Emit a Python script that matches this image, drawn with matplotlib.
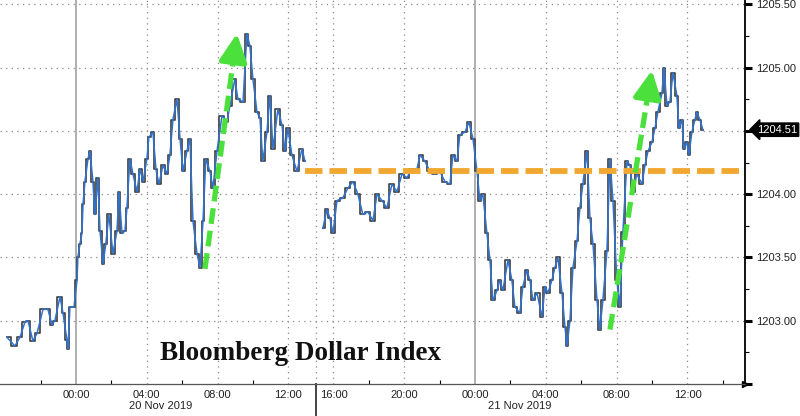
import matplotlib.pyplot as plt
import numpy as np

# hours from 20 Nov 2019 00:00 and index level
t1 = [-3.90, -3.45, -3.16, -2.88, -2.71, -2.43, -2.20, -1.86, -1.58, -1.36,
      -1.19, -0.90, -0.73, -0.51, -0.45, -0.34, -0.11, 0.06, 0.11, 0.23,
      0.34, 0.40, 0.51, 0.68, 0.79, 0.96, 1.07, 1.24, 1.36, 1.53,
      1.69, 1.86, 2.09, 2.32, 2.43, 2.60, 2.77, 2.88, 3.05, 3.22,
      3.45, 3.62, 3.79, 4.01, 4.12, 4.35, 4.52, 4.69, 4.92, 5.14,
      5.31, 5.48, 5.71, 5.88, 6.05, 6.27, 6.44, 6.61, 6.84, 7.01,
      7.18, 7.34, 7.57, 7.74, 7.97, 8.25, 8.53, 8.70, 8.98, 9.15,
      9.44, 9.66, 9.83, 10.00, 10.23, 10.40, 10.56, 10.79, 10.96, 11.13,
      11.41, 11.64, 11.81, 11.98, 12.20, 12.49, 12.77, 12.94]
p1 = [1202.87, 1202.80, 1202.87, 1202.99, 1203.00, 1202.84, 1202.90, 1203.09, 1203.09, 1202.97,
      1203.00, 1203.19, 1203.06, 1202.85, 1202.78, 1203.11, 1203.11, 1203.32, 1203.50, 1203.61,
      1203.69, 1203.92, 1204.10, 1204.28, 1204.34, 1204.10, 1203.84, 1204.13, 1203.71, 1203.45,
      1203.61, 1203.84, 1203.53, 1203.71, 1204.02, 1203.69, 1203.71, 1203.89, 1204.28, 1204.16,
      1204.02, 1204.20, 1204.10, 1204.28, 1204.45, 1204.49, 1204.20, 1204.08, 1204.23, 1204.16,
      1204.31, 1204.59, 1204.75, 1204.44, 1204.18, 1204.34, 1204.44, 1203.79, 1203.53, 1203.42,
      1203.79, 1204.28, 1204.18, 1204.05, 1204.34, 1204.62, 1204.57, 1204.70, 1204.91, 1204.75,
      1204.73, 1205.27, 1205.17, 1204.91, 1204.65, 1204.60, 1204.26, 1204.49, 1204.78, 1204.36,
      1204.67, 1204.55, 1204.34, 1204.52, 1204.31, 1204.18, 1204.36, 1204.26]

t2 = [15.40, 15.63, 15.80, 15.97, 16.20, 16.53, 16.82, 17.10, 17.38, 17.66,
      17.95, 18.23, 18.46, 18.74, 19.02, 19.30, 19.59, 19.87, 20.15, 20.43,
      20.72, 20.89, 21.17, 21.45, 21.73, 22.01, 22.30, 22.58, 22.75, 22.98,
      23.14, 23.43, 23.65, 23.88, 24.11, 24.27, 24.44, 24.67, 24.84, 25.01,
      25.24, 25.40, 25.57, 25.86, 26.08, 26.25, 26.53, 26.70, 26.93, 27.10,
      27.27, 27.50, 27.78, 27.95, 28.12, 28.34, 28.51, 28.68, 28.91, 29.08,
      29.19, 29.36, 29.53, 29.76, 29.92, 30.09, 30.32, 30.49, 30.66, 30.89,
      31.05, 31.22, 31.45, 31.62, 31.79, 32.01, 32.18, 32.35, 32.58, 32.75,
      32.92, 33.14, 33.43, 33.60, 33.77, 33.99, 34.16, 34.33, 34.56, 34.67,
      34.84, 35.01, 35.18, 35.40, 35.52, 35.69, 35.80, 35.97, 36.08, 36.25,
      36.42, 36.53, 36.70, 36.87]
p2 = [1203.73, 1203.88, 1203.81, 1203.69, 1203.95, 1203.97, 1204.05, 1204.10, 1204.00, 1203.84,
      1203.86, 1203.79, 1204.00, 1203.95, 1203.89, 1204.08, 1204.02, 1204.16, 1204.13, 1204.20,
      1204.20, 1204.31, 1204.26, 1204.18, 1204.16, 1204.18, 1204.10, 1204.08, 1204.31, 1204.26,
      1204.47, 1204.49, 1204.57, 1204.44, 1204.18, 1203.95, 1204.00, 1203.69, 1203.48, 1203.16,
      1203.24, 1203.32, 1203.24, 1203.48, 1203.32, 1203.11, 1203.06, 1203.27, 1203.40, 1203.32,
      1203.16, 1203.22, 1203.03, 1203.27, 1203.22, 1203.32, 1203.42, 1203.50, 1203.22, 1202.95,
      1202.80, 1203.00, 1203.42, 1203.63, 1203.89, 1204.08, 1204.34, 1203.81, 1203.61, 1203.16,
      1202.93, 1203.16, 1203.55, 1204.28, 1203.95, 1203.32, 1203.11, 1203.70, 1204.26, 1204.23,
      1204.02, 1204.16, 1204.08, 1204.23, 1204.34, 1204.41, 1204.52, 1204.65, 1204.80, 1205.00,
      1204.70, 1204.73, 1204.96, 1204.78, 1204.52, 1204.59, 1204.36, 1204.41, 1204.31, 1204.49,
      1204.59, 1204.65, 1204.59, 1204.51]

last_price = 1204.51
resistance = 1204.18
resistance_hours = [12.94, 38.95]
arrow_starts = [(7.29, 1203.41), (31.62, 1202.93)]
arrow_ends = [(9.10, 1205.27), (33.99, 1204.98)]

major_hours = [0, 4, 8, 12, 16, 20, 24, 28, 32, 36]
major_labels = ['00:00', '04:00', '08:00', '12:00', '16:00',
                '20:00', '00:00', '04:00', '08:00', '12:00']
minor_hours = [-2, 2, 6, 10, 18, 22, 26, 30, 34, 38]
day_labels = ['20 Nov 2019', '21 Nov 2019']
day_label_hours = [4.8, 26.5]
price_levels = [1202.5, 1203.0, 1203.5, 1204.0, 1204.5, 1205.0, 1205.5]
price_labels = ['', '1203.00', '1203.50', '1204.00', '', '1205.00', '1205.50']

# the axis hides the quiet hours after the European close
GAP_START = 13.56
GAP = 1.45


def squeeze(h):
    h = np.asarray(h, dtype=float)
    return np.where(h > GAP_START, h - GAP, h)


fig = plt.figure(figsize=(8, 4.16), dpi=100)
ax = fig.add_axes([0, 32 / 416, 745 / 800, 384 / 416])
ax.set_xlim(-4.29, 37.8)
ax.set_ylim(1202.5, 1205.535)

dots = (0, (1, 3.5))
for y in price_levels[1:]:
    ax.axhline(y, color='#8a8a8a', lw=0.9, ls=dots, zorder=0)
for h, lab in zip(major_hours, major_labels):
    if lab == '00:00':
        ax.axvline(squeeze(h), color='#9a9a9a', lw=1.1, zorder=0)
    else:
        ax.axvline(squeeze(h), color='#8a8a8a', lw=0.9, ls=dots, zorder=0)
ax.axvline(GAP_START, color='#8a8a8a', lw=0.9, ls=dots, zorder=0)

for t, p in [(t1, p1), (t2, p2)]:
    x = squeeze(t)
    ax.step(x, p, where='mid', color='#454545', lw=1.25, zorder=2)
    ax.plot(x, p, color='#2f72d0', lw=1.1, zorder=3)

ax.plot(squeeze(resistance_hours), [resistance, resistance], color='#f0a830',
        lw=4.2, ls=(0, (3.0, 1.2)), zorder=4)

# green dashed arrows: dashed shaft plus a solid head
green = '#4be03c'
for (s, e) in zip(arrow_starts, arrow_ends):
    x0, y0 = float(squeeze(s[0])), s[1]
    x1, y1 = float(squeeze(e[0])), e[1]
    xm, ym = x0 + 0.9 * (x1 - x0), y0 + 0.9 * (y1 - y0)
    ax.plot([x0, xm], [y0, ym], color=green, lw=3.8, ls=(0, (3, 1.3)),
            zorder=5)
    ax.annotate('', xy=(x1, y1), xytext=(xm, ym),
                arrowprops=dict(arrowstyle='-|>,head_length=1.4,head_width=0.7',
                                color=green, lw=3.8, mutation_scale=12,
                                shrinkA=0, shrinkB=0),
                zorder=5)

ax.text(160 / 745, 24 / 384, 'Bloomberg Dollar Index', transform=ax.transAxes,
        family='Liberation Serif', weight='bold', size=19.5, color='#111111',
        ha='left', va='baseline')

# axes decoration
for s in ['top', 'left']:
    ax.spines[s].set_visible(False)
ax.spines['right'].set_color('black')
ax.spines['right'].set_linewidth(1.3)
ax.spines['bottom'].set_color('#555555')
ax.spines['bottom'].set_linewidth(0.9)

ax.yaxis.tick_right()
ax.set_yticks(price_levels)
ax.set_yticklabels(price_labels)
ax.set_yticks(np.arange(1202.75, 1205.5, 0.5), minor=True)
ax.tick_params(axis='y', which='major', length=5, width=2.2, pad=3,
               labelsize=8, labelcolor='#222222')
ax.tick_params(axis='y', which='minor', length=3, width=0.8)
for lab in ax.get_yticklabels():
    lab.set_family('Liberation Sans')

ax.set_xticks(squeeze(major_hours))
ax.set_xticklabels(major_labels, family='Liberation Sans', size=8, color='#222222')
ax.set_xticks(squeeze(minor_hours), minor=True)
ax.tick_params(axis='x', which='major', length=0, pad=4)
ax.tick_params(axis='x', which='minor', direction='in', length=3, width=0.8)

xt = ax.get_xaxis_transform()
for h, lab in zip(day_label_hours, day_labels):
    ax.text(squeeze(h), -0.058, lab, transform=xt, ha='center', va='center',
            family='Liberation Sans', size=8, color='#222222')
ax.plot([GAP_START, GAP_START], [0, -0.09], transform=xt, color='#444444',
        lw=1.4, clip_on=False)
ax.plot([1.0], [0.0], marker='>', ms=5, color='black', transform=ax.transAxes,
        clip_on=False)

ax.text(1.016, last_price, '1204.51', transform=ax.get_yaxis_transform(),
        ha='left', va='center', color='white', family='Liberation Sans', size=8,
        bbox=dict(boxstyle='larrow,pad=0.15', fc='black', ec='black'))

fig.savefig('out.png', dpi=100, facecolor='white')
